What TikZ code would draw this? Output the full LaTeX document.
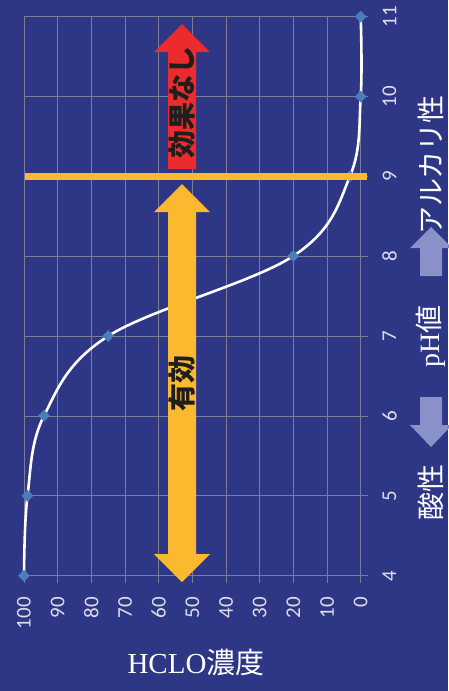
\documentclass[tikz,border=0pt]{standalone}
\usepackage{fontspec}
\usetikzlibrary{shapes.geometric}
\newfontfamily\tickfont{Carlito}
\newfontfamily\jp{Noto Sans CJK JP}
\newfontfamily\serifen{Liberation Serif}
\definecolor{bg}{RGB}{46,54,134}
\definecolor{gridc}{RGB}{125,125,150}
\definecolor{diac}{RGB}{74,126,187}
\definecolor{yelc}{RGB}{251,185,48}
\definecolor{redc}{RGB}{236,44,44}
\definecolor{lavc}{RGB}{137,145,200}
\definecolor{tickc}{RGB}{222,222,232}
\definecolor{darkc}{RGB}{30,30,30}
\tikzset{
  gridline/.style={draw=gridc, line width=1pt},
  curveline/.style={draw=white, line width=2.6pt},
  dia/.style={shape=diamond, fill=diac, minimum width=12pt, minimum height=12pt, inner sep=0pt},
  ticklab/.style={text=tickc, font=\tickfont\fontsize{21}{21}\selectfont, inner sep=0pt, rotate=90},
  jplab/.style={font=\jp\fontsize{28}{28}\selectfont, inner sep=0pt, rotate=90},
  boldlab/.style={text=darkc, font=\jp\bfseries\fontsize{28}{28}\selectfont, inner sep=0pt, rotate=90},
}
\begin{document}
\begin{tikzpicture}[x=1pt,y=-1pt]
\fill[bg] (0,0) rectangle (448,691);
\useasboundingbox (0,0) rectangle (448,691);
% grid
\foreach \i in {0,...,10} {
  \draw[gridline] ({24+\i*33.67},16.7) -- ({24+\i*33.67},583);
}
\foreach \p in {4,...,11} {
  \draw[gridline] (24,{16.7+(11-\p)*79.86}) -- (368,{16.7+(11-\p)*79.86});
}
% data points
\coordinate (d4) at (24,575.7);
\coordinate (d5) at (27.5,495.7);
\coordinate (d6) at (44,415.8);
\coordinate (d7) at (108.3,336);
\coordinate (d8) at (293.3,256);
\coordinate (d9) at (350,176.2);
\coordinate (d10) at (360.7,96.6);
\coordinate (d11) at (360.7,16.7);
\draw[curveline] plot[smooth, tension=0.6] coordinates {(d4) (d5) (d6) (d7) (d8) (d9) (d10) (d11)};
\foreach \k in {4,...,11} { \node[dia] (m\k) at (d\k) {}; }
% yellow threshold line
\coordinate (yl1) at (25,176.7);
\coordinate (yl2) at (367,176.7);
\draw[yelc, line width=7pt] (yl1) -- (yl2);
% red arrow
\fill[redc] (168,169) -- (168,52) -- (154,52) -- (182,24) -- (210,52) -- (196,52) -- (196,169) -- cycle;
% yellow double arrow
\fill[yelc] (168,212) -- (154,212) -- (182,184) -- (210,212) -- (196,212) -- (196,554) -- (210,554) -- (182,582) -- (154,554) -- (168,554) -- cycle;
\node[boldlab] (nokouka) at (182,102) {効果なし};
\node[boldlab] (yuko) at (182,383.5) {有効};
% right axis tick labels
\foreach \p in {4,...,11} {
  \node[ticklab] (y\p) at (389.5,{16.7+(11-\p)*79.86}) {\p};
}
% bottom tick labels
\foreach \c [count=\i from 0] in {100,90,80,70,60,50,40,30,20,10,0} {
  \node[ticklab, anchor=east] (x\i) at ({24+\i*33.67},597) {\c};
}
% right axis title
\node[jplab, text=white] (acid) at (431,492.5) {酸性};
\fill[lavc] (420,397) -- (442,397) -- (442,425) -- (452,425) -- (431,447) -- (410,425) -- (420,425) -- cycle;
\node[jplab, text=white] (ph) at (431,336.5) {{\serifen pH}値};
\fill[lavc] (420,276) -- (442,276) -- (442,248) -- (452,248) -- (431,227) -- (410,248) -- (420,248) -- cycle;
\node[jplab, text=white] (alk) at (431,165) {アルカリ性};
% bottom axis title
\node[text=white, inner sep=0pt, anchor=base] (xt) at (196,673) {\fontsize{29}{29}\selectfont\serifen HCLO\jp 濃度};
\end{tikzpicture}
\end{document}
